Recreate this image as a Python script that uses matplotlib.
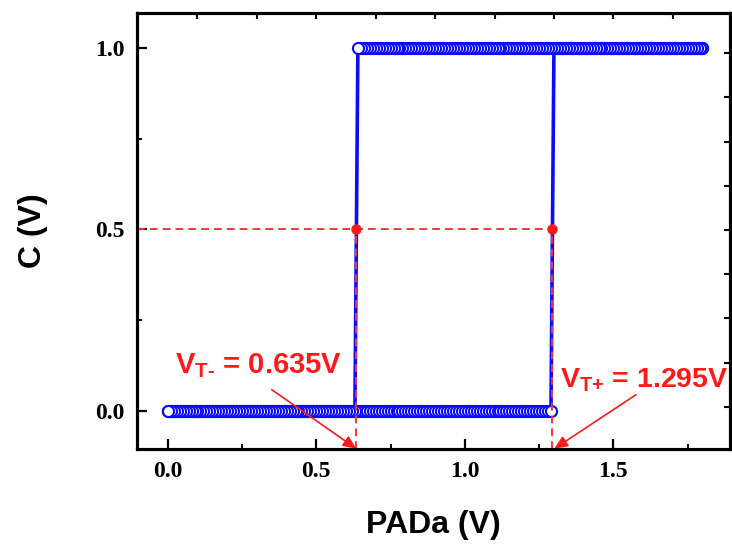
import numpy as np
import matplotlib
matplotlib.use("Agg")
import matplotlib.pyplot as plt
from matplotlib.ticker import MultipleLocator

# Schmitt trigger transfer characteristic: output C vs input PADa
VT_minus = 0.635          # falling threshold (V)
VT_plus = 1.295           # rising threshold (V)
v_start, v_stop, v_step = 0.0, 1.8, 0.01   # DC sweep settings
v_high = 1.0              # output high level (V)

x_ticks = [0.0, 0.5, 1.0, 1.5]
x_tick_labels = ["0.0", "0.5", "1.0", "1.5"]
y_ticks = [0.0, 0.5, 1.0]
y_tick_labels = ["0.0", "0.5", "1.0"]

# forward sweep (0 -> 1.8) switches high above VT+,
# reverse sweep (1.8 -> 0) switches low below VT-
sweep = np.round(np.arange(v_start, v_stop + v_step / 2, v_step), 4)
fwd_y = np.where(sweep < VT_plus, 0.0, v_high)
rev_x = sweep[::-1]
rev_y = np.where(rev_x > VT_minus, v_high, 0.0)

plt.rcParams["mathtext.fontset"] = "custom"
plt.rcParams["mathtext.bf"] = "Liberation Sans:bold"
plt.rcParams["mathtext.rm"] = "Liberation Sans:bold"

fig = plt.figure(figsize=(7.32, 5.52), dpi=100)
ax = fig.add_axes([0.187, 0.187, 0.81, 0.789])

blue = "#0a0aff"
red = "#ff1a1a"
dash_red = "#f03838"

for xs, ys in ((sweep, fwd_y), (rev_x, rev_y)):
    ax.plot(xs, ys, color=blue, lw=2.6, marker="o", ms=8,
            mfc="white", mec=blue, mew=1.5, zorder=3)

xmin, xmax = -0.104, 1.892
ymin, ymax = -0.105, 1.096
ax.set_xlim(xmin, xmax)
ax.set_ylim(ymin, ymax)

# threshold guides at half the output swing
half = v_high / 2
ax.plot([xmin, VT_plus], [half, half], color=dash_red, lw=1.4,
        ls=(0, (4, 2.6)), zorder=4)
for vt in (VT_minus, VT_plus):
    ax.plot([vt, vt], [ymin, half], color=dash_red, lw=1.4,
            ls=(0, (4, 2.6)), zorder=4)
ax.plot([VT_minus, VT_plus], [half, half], "o", color=red, ms=6.5, zorder=5)

arrow = dict(arrowstyle="-|>,head_length=0.8,head_width=0.35",
             color=red, lw=1.2, shrinkA=0, shrinkB=0)
ax.annotate("", xy=(VT_minus, ymin), xytext=(0.350, 0.058),
            arrowprops=arrow, zorder=5, annotation_clip=False)
ax.annotate("", xy=(VT_plus + 0.006, ymin), xytext=(1.576, 0.044),
            arrowprops=arrow, zorder=5, annotation_clip=False)

ax.text(0.024, 0.124, r"$\mathbf{V_{T\text{-}}}$" + f" = {VT_minus:.3f}V",
        color=red, fontsize=21, fontweight="bold", family="Liberation Sans",
        ha="left", va="center", zorder=6)
ax.text(1.322, 0.083, r"$\mathbf{V_{T\text{+}}}$" + f" = {VT_plus:.3f}V",
        color=red, fontsize=20.5, fontweight="bold", family="Liberation Sans",
        ha="left", va="center", zorder=6, clip_on=False)

# axes styling
for s in ax.spines.values():
    s.set_linewidth(2.2)
ax.set_xticks(x_ticks, x_tick_labels)
ax.set_yticks(y_ticks, y_tick_labels)
ax.xaxis.set_minor_locator(MultipleLocator(0.25))
ax.yaxis.set_minor_locator(MultipleLocator(0.25))
ax.tick_params(which="major", direction="in", length=7, width=1.6,
               labelsize=17, pad=9)
ax.tick_params(which="minor", direction="in", length=3.5, width=1.4)
for lab in ax.get_xticklabels() + ax.get_yticklabels():
    lab.set_family("Liberation Serif")
    lab.set_fontweight("bold")

# opposite axes carry their own unlabeled ticks
top = ax.twiny()
top.set_xlim(xmin, xmax)
top.set_xticks(np.arange(0.1, 1.75, 0.2))
top.tick_params(direction="in", length=4, width=1.5, labeltop=False)
right = ax.twinx()
right.set_ylim(ymin, ymax)
right.set_yticks(np.linspace(0.011, 0.986, 9))
right.tick_params(direction="in", length=4.5, width=1.5, labelright=False)
for a in (top, right):
    for s in a.spines.values():
        s.set_linewidth(2.2)

ax.set_xlabel("PADa (V)", family="Liberation Sans", fontweight="bold",
              fontsize=23, labelpad=20)
ax.set_ylabel("C (V)", family="Liberation Sans", fontweight="bold",
              fontsize=23, labelpad=34)

fig.savefig("out.png", dpi=100)
